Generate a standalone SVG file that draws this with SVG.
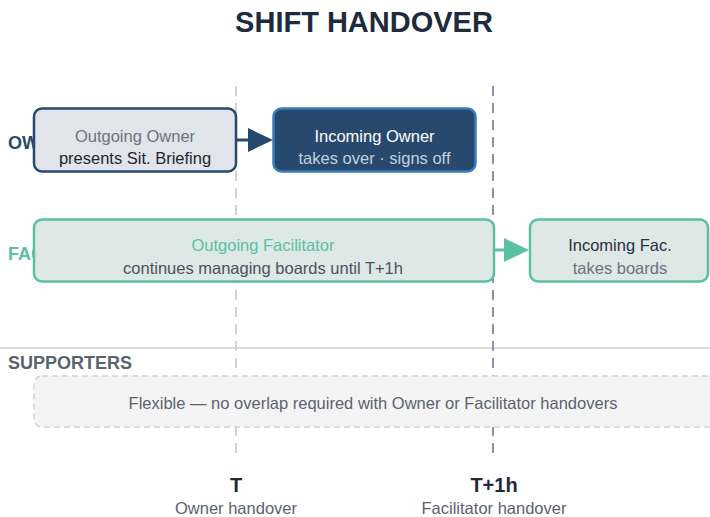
<svg xmlns="http://www.w3.org/2000/svg" width="710" height="517" viewBox="0 0 710 517">
  <style>
    text { font-family: "Liberation Sans", Arial, sans-serif; }
    .title { font-size: 29px; font-weight: bold; fill: #1e2b3c; }
    .lane { font-size: 18px; font-weight: bold; }
    .t1 { font-size: 16.5px; }
    .mark { font-size: 20px; font-weight: bold; fill: #1e2b3c; }
    .sub { font-size: 16.5px; fill: #5b6270; }
    .guide { stroke-width: 2; stroke-dasharray: 10 7; fill: none; }
  </style>

  <rect width="710" height="517" fill="#ffffff"/>

  <text class="title" x="364" y="32" text-anchor="middle">SHIFT HANDOVER</text>

  <!-- lane labels -->
  <text class="lane" x="8" y="149" fill="#27496d">OWNER</text>
  <text class="lane" x="8" y="260" fill="#5bbfa4">FACILITATOR</text>
  <line x1="0" y1="348" x2="710" y2="348" stroke="#cfcfcf" stroke-width="1.5"/>
  <text class="lane" x="8" y="369" fill="#5b6270">SUPPORTERS</text>

  <!-- time guides -->
  <g id="guides">
    <line class="guide" x1="236" y1="86" x2="236" y2="458" stroke="#d2d2d2"/>
    <line class="guide" x1="493" y1="86" x2="493" y2="458" stroke="#8c95a6"/>
  </g>

  <!-- connectors -->
  <g id="connectors">
    <line x1="236" y1="140" x2="250" y2="140" stroke="#27496d" stroke-width="3"/>
    <path d="M248,128 L273,140 L248,152 Z" fill="#27496d"/>
    <line x1="494" y1="250" x2="506" y2="250" stroke="#5bbfa4" stroke-width="3"/>
    <path d="M504,238 L529,250 L504,262 Z" fill="#5bbfa4"/>
  </g>

  <g id="outgoing-owner">
    <rect x="34" y="108.5" width="202" height="63" rx="8" fill="#e1e4ea" stroke="#27496d" stroke-width="2.5"/>
    <text class="t1" x="135" y="142" text-anchor="middle" fill="#6b7280">Outgoing Owner</text>
    <text class="t1" x="135" y="164" text-anchor="middle" fill="#1f2530">presents Sit. Briefing</text>
  </g>

  <g id="incoming-owner">
    <rect x="273.5" y="108.5" width="202" height="63" rx="8" fill="#27496d" stroke="#3b7cbb" stroke-width="2.5"/>
    <text class="t1" x="374.5" y="142" text-anchor="middle" fill="#ffffff">Incoming Owner</text>
    <text class="t1" x="374.5" y="164" text-anchor="middle" fill="#c3d0de">takes over · signs off</text>
  </g>

  <g id="outgoing-facilitator">
    <rect x="34" y="219.5" width="460" height="62" rx="8" fill="#dee8e5" stroke="#5bbfa4" stroke-width="2.5"/>
    <text class="t1" x="263" y="251" text-anchor="middle" fill="#5bbfa4">Outgoing Facilitator</text>
    <text class="t1" x="263" y="274" text-anchor="middle" fill="#4a5260">continues managing boards until T+1h</text>
  </g>

  <g id="incoming-facilitator">
    <rect x="530" y="219.5" width="178" height="62" rx="8" fill="#dee8e5" stroke="#5bbfa4" stroke-width="2.5"/>
    <text class="t1" x="620" y="251" text-anchor="middle" fill="#2a3140">Incoming Fac.</text>
    <text class="t1" x="620" y="274" text-anchor="middle" fill="#6b7280">takes boards</text>
  </g>

  <g id="supporters">
    <rect x="34" y="376" width="690" height="51" rx="8" fill="#f4f4f4" stroke="#d2d2d2" stroke-width="1.5" stroke-dasharray="6 4"/>
    <text class="t1" x="373" y="409" text-anchor="middle" fill="#5b6270">Flexible — no overlap required with Owner or Facilitator handovers</text>
  </g>

  <!-- time axis -->
  <g id="mark-t">
    <text class="mark" x="236" y="492" text-anchor="middle">T</text>
    <text class="sub" x="236" y="514" text-anchor="middle">Owner handover</text>
  </g>
  <g id="mark-t1h">
    <text class="mark" x="494" y="492" text-anchor="middle">T+1h</text>
    <text class="sub" x="494" y="514" text-anchor="middle">Facilitator handover</text>
  </g>
</svg>
